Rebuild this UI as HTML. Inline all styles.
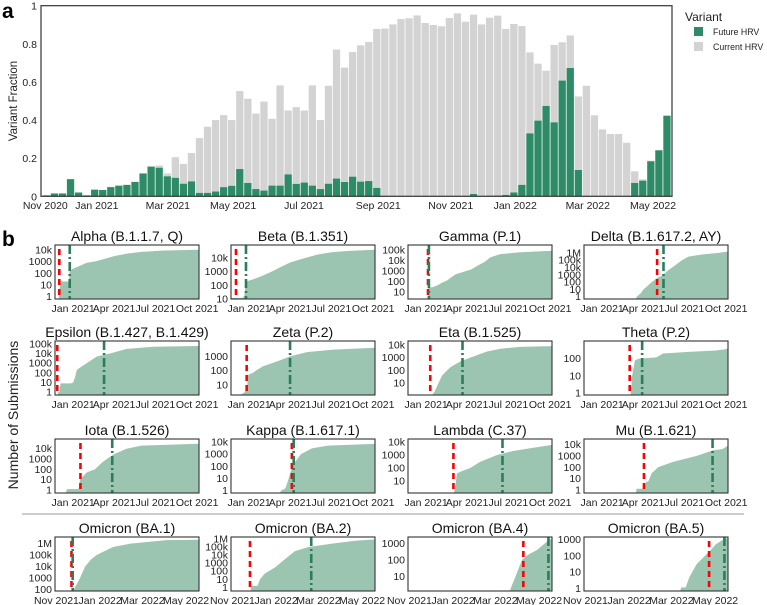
<!DOCTYPE html>
<html><head><meta charset="utf-8"><style>
html,body{margin:0;padding:0;background:#fff;}
svg{display:block;font-family:"Liberation Sans",sans-serif;}
</style></head><body>
<svg id="fig" width="767" height="605" viewBox="0 0 767 605" xmlns="http://www.w3.org/2000/svg">
<text x="2" y="18" font-size="21" font-weight="bold">a</text>
<text x="2" y="246" font-size="21" font-weight="bold">b</text>
<text transform="translate(17,101) rotate(-90)" text-anchor="middle" font-size="11.5" fill="#222">Variant Fraction</text>
<text transform="translate(18,415) rotate(-90)" text-anchor="middle" font-size="14" fill="#222">Number of Submissions</text>
<g>
<text x="685" y="21" font-size="12" fill="#222">Variant</text>
<rect x="694" y="27" width="9" height="9" fill="#2e8b68"/>
<text x="713" y="35" font-size="8.8" fill="#222">Future HRV</text>
<rect x="694" y="42" width="9" height="9" fill="#d3d3d3"/>
<text x="713" y="50" font-size="8.8" fill="#222">Current HRV</text>
</g>
<line x1="22" y1="514" x2="744" y2="514" stroke="#999" stroke-width="1"/>
</svg>
<script>
// ---------- Panel a data ----------
const futureHRV = [.005,.015,.015,.09,.02,.005,.035,.033,.048,.056,.06,.075,.12,.155,.15,.105,.097,.066,.078,.018,.018,.025,.048,.055,.143,.07,.038,.03,.056,.056,.115,.065,.072,.056,.038,.066,.093,.075,.103,.077,.08,.044,0,0,0,0,0,0,0,0,0,0,0,.012,0,.003,.004,.007,.02,.06,.33,.397,.474,.388,.607,.673,.138,0,0,0,0,0,0,.07,.082,.184,.241,.423];
const currentHRV = [0,0,0,0,0,0,0,0,.002,0,0,.002,0,.005,.012,.015,.108,.104,.149,.287,.347,.375,.378,.345,.409,.442,.396,.467,.351,.526,.335,.403,.378,.526,.362,.514,.677,.6,.654,.715,.73,.834,.88,.902,.93,.934,.949,.909,.899,.892,.935,.96,.916,.941,.902,.934,.944,.871,.884,.833,.425,.299,.185,.406,.201,.171,.386,.58,.425,.351,.327,.327,.281,.061,.007,.003,.002,0];
const aTickLabels = ["Nov 2020","Jan 2021","Mar 2021","May 2021","Jul 2021","Sep 2021","Nov 2021","Jan 2022","Mar 2022","May 2022"];
const aTickWeeks = [0.2,6.6,15.4,23.5,32.3,41.5,50.5,58.5,67.5,75.6];
const aYTicks = [0,0.2,0.4,0.6,0.8,1];

// ---------- Panel b data ----------
const panelTitles = ["Alpha (B.1.1.7, Q)","Beta (B.1.351)","Gamma (P.1)","Delta (B.1.617.2, AY)","Epsilon (B.1.427, B.1.429)","Zeta (P.2)","Eta (B.1.525)","Theta (P.2)","Iota (B.1.526)","Kappa (B.1.617.1)","Lambda (C.37)","Mu (B.1.621)","Omicron (BA.1)","Omicron (BA.2)","Omicron (BA.4)","Omicron (BA.5)"];
const alphaCurve = [[-32,0.5],[-31,1],[-29,8],[-27,20],[-9,20],[-8,150],[-5,200],[0,250],[15,450],[30,800],[50,1100],[70,1800],[90,3000],[120,5000],[150,7000],[200,9000],[277,10500]];
const betaCurve = [[-40,12],[-14,12],[-10,20],[-8,150],[-4,200],[10,280],[30,500],[50,1000],[70,2200],[90,4500],[120,9000],[150,17000],[181,25000],[220,32000],[277,38000]];
const gammaCurve = [[4,0.5],[5,27],[15,30],[25,45],[35,80],[45,120],[55,250],[65,500],[80,800],[100,1500],[112,3000],[130,8000],[141,20000],[163,40000],[207,60000],[277,85000]];
const deltaCurve = [[74,0.3],[76,1],[85,3],[91,10],[100,30],[109,100],[122,400],[135,1000],[145,4000],[154,10000],[176,100000],[190,300000],[220,600000],[256,1000000],[277,1500000]];
const epsilonCurve = [[-34,0.3],[-33,1],[-30,1],[-28,8],[-5,8],[0,10],[5,50],[8,200],[20,500],[30,1000],[52,5000],[81,10000],[118,30000],[176,50000],[277,60000]];
const zetaCurve = [[-22,1],[-20,2],[-10,3],[-4,10],[-2,50],[8,70],[15,100],[30,200],[66,500],[90,1000],[127,2000],[185,3000],[277,4000]];
const etaCurve = [[12,0.8],[13,1.2],[18,2],[27,10],[35,40],[46,100],[55,200],[75,500],[97,1000],[134,3000],[164,5000],[207,7000],[277,8000]];
const thetaCurve = [[62,0.5],[63,1],[66,10],[72,80],[80,100],[119,120],[134,200],[190,250],[250,300],[270,350],[277,400]];
const iotaCurve = [[-16,0.3],[-14,1.2],[12,1.2],[15,10],[30,50],[48,100],[62,400],[74,1000],[90,3000],[118,10000],[150,20000],[277,30000]];
const kappaCurve = [[68,0.4],[70,1],[80,1.5],[87,10],[95,100],[100,200],[114,1000],[138,3000],[173,5000],[277,7000]];
const lambdaCurve = [[60,0.8],[62,1.5],[68,40],[80,60],[97,100],[119,300],[156,1000],[190,2000],[222,3000],[277,6000]];
const muCurve = [[74,0.4],[76,1.3],[92,1.3],[96,5],[102,6],[109,30],[123,100],[156,300],[208,1000],[244,3000],[265,4000],[277,8000]];
const ba1Curve = [[24,50],[24.5,100],[33,1000],[40,10000],[48,40000],[56,100000],[79,500000],[103,1000000],[154,2000000],[199,2200000]];
const ba2Curve = [[25,0.3],[27,1.5],[35,1.5],[38.5,10],[45,50],[59.5,300],[73,3000],[87,30000],[106,100000],[143,300000],[171,600000],[199,900000]];
const ba4Curve = [[125,0.5],[127,1.3],[140,1.3],[143,3],[148,10],[157,100],[165,200],[178,400],[194,1500],[199,2000]];
const ba5Curve = [[132,0.5],[134,1.2],[140,1.2],[145,5],[155,30],[160,50],[174,200],[182,500],[193,1000],[199,1200]];
const panelCurves = [alphaCurve,betaCurve,gammaCurve,deltaCurve,epsilonCurve,zetaCurve,etaCurve,thetaCurve,iotaCurve,kappaCurve,lambdaCurve,muCurve,ba1Curve,ba2Curve,ba4Curve,ba5Curve];
const redDays = [-30.5,-29,4,121,-35,-5.5,9,60.6,16,94,60,92,21,24.5,159,172.6];
const greenDays = [-7.6,-7,6,135,68,90,80,88,86,98,168,243,22.7,110,194,194];
const logRanges = [[-0.2,4.43],[1,4.93],[0.35,5.47],[-0.31,7.07],[-0.3,5.3],[0.29,4.08],[0.08,4.3],[-0.11,3.03],[-0.3,4.94],[-0.2,4.25],[0.08,4.23],[-0.26,4.48],[1.85,6.58],[-0.46,6.25],[0.14,3.38],[-0.14,3.14]];
const yTickSets = [[1,10,100,1000,1e4],[10,100,1000,1e4],[10,100,1000,1e4,1e5],[1,10,100,1000,1e4,1e5,1e6],[1,10,100,1000,1e4,1e5],[10,100,1000],[10,100,1000,1e4],[1,10,100],[1,10,100,1000,1e4],[1,10,100,1000,1e4],[10,100,1000,1e4],[1,10,100,1000,1e4],[100,1000,1e4,1e5,1e6],[1,10,100,1000,1e4,1e5,1e6],[10,100,1000],[1,10,100,1000]];
const xLabels2021 = ["Jan 2021","Apr 2021","Jul 2021","Oct 2021"];
const xDays2021 = [0,90,181,273];
const xLabels2022 = ["Nov 2021","Jan 2022","Mar 2022","May 2022"];
const xDays2022 = [0,61,120,181];

const NS = "http://www.w3.org/2000/svg";
const svg = document.getElementById("fig");
function mk(tag, attrs, parent){ const e=document.createElementNS(NS,tag); for(const k in attrs) e.setAttribute(k,attrs[k]); (parent||svg).appendChild(e); return e; }

// ---------- Panel a ----------
const A = {l:41, r:672, t:5.7, b:196.3, x0:42.7, step:8.06, bw:7.3};
const ay = v => A.b - v*(A.b-A.t);
const ax = i => A.x0 + i*A.step;
const ga = mk("g",{});


futureHRV.forEach((f,i)=>{
  const c = currentHRV[i];
  if(c>0){ const r=mk("rect",{x:ax(i),y:ay(f+c),width:A.bw,height:ay(f)-ay(f+c),fill:"#d3d3d3"},ga);
    
     }
  if(f>0){ const r=mk("rect",{x:ax(i),y:ay(f),width:A.bw,height:ay(0)-ay(f),fill:"#2e8b68"},ga);
    
     }
});
const abox = mk("rect",{x:A.l,y:A.t,width:A.r-A.l,height:A.b-A.t,fill:"none",stroke:"#333","stroke-width":1.2},ga);


aYTicks.forEach(v=>{
  const t=mk("text",{x:37,y:ay(v)+4,"text-anchor":"end","font-size":10.5,fill:"#222"},ga); t.textContent=String(v);
  
  
});
aTickLabels.forEach((lab,i)=>{
  const t=mk("text",{x:ax(aTickWeeks[i])+1,y:209,"text-anchor":"middle","font-size":10.5,fill:"#222"},ga); t.textContent=lab;
  
  
});

// ---------- Panel b ----------
const colL = [55,231,408,584], rowT = [245,341,439,537], PW=144, PH=54;
function fmt(v){ if(v>=1e6) return (v/1e6)+"M"; if(v>=1e4) return (v/1e3)+"k"; return String(v); }
panelTitles.forEach((title,p)=>{
  const L=colL[p%4], T=rowT[Math.floor(p/4)], B=T+PH, R=L+PW;
  const omi = p>=12;
  const d0 = omi?-2:-40, d1 = omi?199:277;
  const xs = d=> L + (d-d0)/(d1-d0)*PW;
  const [lo,hi] = logRanges[p];
  const ys = v=> { let lv=Math.log10(Math.max(v,1e-3)); lv=Math.max(lo,Math.min(hi,lv)); return B-(lv-lo)/(hi-lo)*PH; };
  const g = mk("g",{});
  
  
  const cid="clip"+p;
  const cp=mk("clipPath",{id:cid},g); mk("rect",{x:L,y:T,width:PW,height:PH},cp);
  const curve = panelCurves[p];
  let d = "M"+xs(curve[0][0])+","+B;
  curve.forEach(pt=>{ d+=" L"+xs(pt[0])+","+ys(pt[1]); });
  d += " L"+xs(curve[curve.length-1][0])+","+B+" Z";
  const area=mk("path",{d:d,fill:"#9cc5b1","clip-path":"url(#"+cid+")"},g);
  
  
  const rl=mk("line",{x1:xs(redDays[p]),x2:xs(redDays[p]),y1:T+4,y2:B,stroke:"#ff0000","stroke-width":2.6,"stroke-dasharray":"6,4"},g);
  
  
  const gl=mk("line",{x1:xs(greenDays[p]),x2:xs(greenDays[p]),y1:T,y2:B,stroke:"#2a7f5a","stroke-width":2.6,"stroke-dasharray":"9,3,2,3"},g);
  
  
  const fr=mk("rect",{x:L,y:T,width:PW,height:PH,fill:"none",stroke:"#333","stroke-width":1.1},g);
  
  
  const tt=mk("text",{x:L+PW/2,y:T-4,"text-anchor":"middle","font-size":14,fill:"#111"},g); tt.textContent=title;
  
  
  yTickSets[p].forEach(v=>{
    const t=mk("text",{x:L-3,y:ys(v)+3.5,"text-anchor":"end","font-size":10.5,fill:"#222"},g); t.textContent=fmt(v);
    
    
  });
  const labs = omi?xLabels2022:xLabels2021, days = omi?xDays2022:xDays2021;
  labs.forEach((lab,i)=>{
    const t=mk("text",{x:xs(days[i]),y:B+13,"text-anchor":"middle","font-size":10.5,fill:"#222"},g); t.textContent=lab;
    
    
  });
});
</script>
</body></html>
